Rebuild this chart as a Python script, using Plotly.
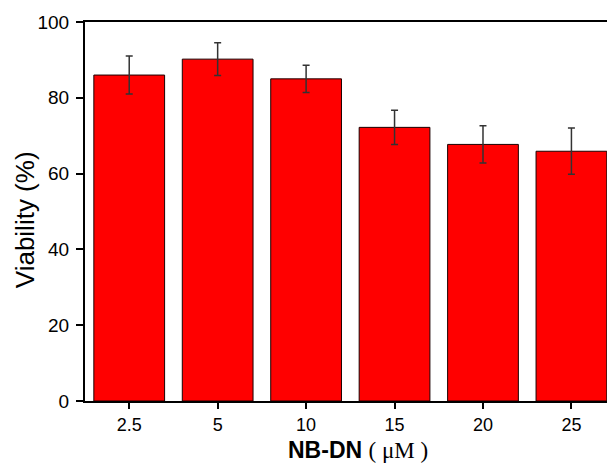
import plotly.graph_objects as go

categories = ["2.5", "5", "10", "15", "20", "25"]
viability = [86.0, 90.2, 85.0, 72.2, 67.7, 65.9]
errors = [5.0, 4.3, 3.6, 4.5, 4.9, 6.1]

fig = go.Figure()
fig.add_trace(go.Bar(
    x=categories,
    y=viability,
    marker=dict(color="#ff0000", line=dict(color="#1a0000", width=1)),
    error_y=dict(type="data", array=errors, visible=True,
                 color="#333333", thickness=1.5, width=3.5),
    width=0.8,
))

font_main = "Arial, Liberation Sans, sans-serif"

fig.update_layout(
    width=607, height=464,
    margin=dict(l=77, r=0, t=14, b=71),
    paper_bgcolor="white", plot_bgcolor="white",
    showlegend=False,
    font=dict(family=font_main, color="black"),
    xaxis=dict(
        type="category",
        range=[-0.5, 5.47],
        showline=True, linecolor="black", linewidth=2, mirror=True,
        ticks="outside", ticklen=6, tickwidth=1.5, tickcolor="black",
        tickfont=dict(size=18, family=font_main, color="black"),
        showgrid=False, zeroline=False,
    ),
    yaxis=dict(
        range=[0, 100],
        tickvals=[0, 20, 40, 60, 80, 100],
        showline=True, linecolor="black", linewidth=2, mirror=True,
        ticks="outside", ticklen=7, tickwidth=1.5, tickcolor="black",
        tickfont=dict(size=19, family=font_main, color="black"),
        ticklabelstandoff=3,
        showgrid=False, zeroline=False,
    ),
    annotations=[
        dict(
            text="<b>NB-DN</b> <span style='font-family:Times New Roman, Liberation Serif, serif'>( μM )</span>",
            xref="paper", yref="paper", x=0.517, y=0, yshift=-49,
            xanchor="center", yanchor="middle", showarrow=False,
            font=dict(size=23, family=font_main, color="black"),
        ),
        dict(
            text="Viability (%)",
            xref="paper", yref="paper", x=-0.1132, y=0.4776,
            xanchor="center", yanchor="middle", showarrow=False, textangle=-90,
            font=dict(size=26, family=font_main, color="black"),
        ),
    ],
)

fig.write_html("out.html")
